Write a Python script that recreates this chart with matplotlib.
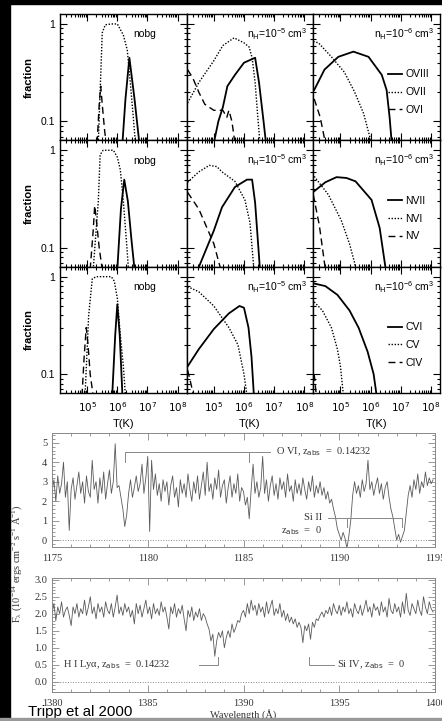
import matplotlib
matplotlib.use('Agg')
import matplotlib.pyplot as plt
from matplotlib.patches import Rectangle
from matplotlib.ticker import LogLocator, MultipleLocator, NullFormatter, FuncFormatter, FixedLocator
import numpy as np

W, H = 442, 721

# ---- ionisation fractions, (log T, fraction) ----
# oxygen
o_nobg_viii = [(6.17, 0.06), (6.27, 0.17), (6.4, 0.45), (6.57, 0.17), (6.73, 0.06)]
o_nobg_vii = [(5.37, 0.06), (5.5, 0.81), (5.6, 0.98), (5.8, 1.0), (6.0, 1.0), (6.2, 0.77),
              (6.33, 0.54), (6.43, 0.25), (6.53, 0.11), (6.6, 0.06)]
o_nobg_vi = [(5.33, 0.06), (5.4, 0.15), (5.45, 0.23), (5.5, 0.15), (5.58, 0.08), (5.63, 0.06)]
o_5_viii = [(5.0, 0.06), (5.15, 0.1), (5.3, 0.14), (5.45, 0.23), (5.7, 0.3), (6.0, 0.4),
            (6.37, 0.45), (6.5, 0.25), (6.65, 0.1), (6.73, 0.06)]
o_5_vii = [(4.13, 0.155), (4.5, 0.25), (5.0, 0.42), (5.3, 0.6), (5.67, 0.72), (6.0, 0.64),
           (6.17, 0.58), (6.27, 0.45), (6.37, 0.25), (6.45, 0.12), (6.53, 0.06)]
o_5_vi = [(4.13, 0.34), (4.3, 0.28), (4.5, 0.2), (4.7, 0.15), (5.0, 0.13), (5.3, 0.13),
          (5.43, 0.11), (5.5, 0.13), (5.6, 0.1), (5.7, 0.06)]
o_6_viii = [(4.13, 0.21), (4.47, 0.34), (4.93, 0.46), (5.43, 0.52), (5.93, 0.46), (6.37, 0.3),
            (6.53, 0.21), (6.63, 0.11), (6.7, 0.06)]
o_6_vii = [(4.1, 0.66), (4.27, 0.64), (4.7, 0.46), (5.13, 0.32), (5.47, 0.2), (5.77, 0.12),
           (5.97, 0.07), (6.0, 0.06)]
o_6_vi = [(4.13, 0.17), (4.33, 0.11), (4.5, 0.06)]
# nitrogen
n_nobg_vii = [(6.0, 0.06), (6.12, 0.25), (6.23, 0.5), (6.35, 0.3), (6.47, 0.12), (6.57, 0.06)]
n_nobg_vi = [(5.2, 0.06), (5.37, 0.3), (5.43, 0.9), (5.53, 1.0), (5.87, 1.0), (6.0, 0.85),
             (6.1, 0.63), (6.2, 0.3), (6.3, 0.12), (6.37, 0.06)]
n_nobg_v = [(5.1, 0.06), (5.2, 0.15), (5.25, 0.27), (5.3, 0.2), (5.4, 0.1), (5.5, 0.06)]
n_5_vii = [(4.47, 0.06), (5.0, 0.15), (5.27, 0.26), (5.7, 0.42), (6.1, 0.5), (6.27, 0.5),
           (6.37, 0.29), (6.53, 0.06)]
n_5_vi = [(4.13, 0.47), (4.5, 0.6), (4.85, 0.7), (5.1, 0.68), (5.27, 0.6), (5.7, 0.48),
          (6.03, 0.31), (6.2, 0.18), (6.33, 0.06)]
n_5_v = [(4.13, 0.37), (4.5, 0.25), (5.0, 0.11), (5.23, 0.06)]
n_6_vii = [(4.13, 0.38), (4.5, 0.47), (4.87, 0.53), (5.2, 0.52), (5.5, 0.48), (6.03, 0.31),
           (6.3, 0.16), (6.47, 0.07), (6.5, 0.06)]
n_6_vi = [(4.13, 0.54), (4.6, 0.35), (5.03, 0.19), (5.3, 0.11), (5.47, 0.07), (5.5, 0.06)]
n_6_v = [(4.1, 0.35), (4.3, 0.17), (4.5, 0.06)]
# carbon
c_nobg_vi = [(5.83, 0.06), (5.93, 0.25), (6.0, 0.52), (6.08, 0.25), (6.17, 0.06)]
c_nobg_v = [(4.93, 0.06), (5.05, 0.4), (5.17, 0.95), (5.3, 1.0), (5.8, 1.0), (5.9, 0.9),
            (6.0, 0.6), (6.1, 0.25), (6.2, 0.12), (6.27, 0.06)]
c_nobg_iv = [(4.83, 0.06), (4.9, 0.15), (4.97, 0.3), (5.03, 0.2), (5.1, 0.1), (5.2, 0.06)]
c_5_vi = [(4.13, 0.12), (4.5, 0.18), (5.0, 0.29), (5.5, 0.42), (5.85, 0.5), (6.0, 0.48),
          (6.15, 0.3), (6.25, 0.15), (6.33, 0.06)]
c_5_v = [(4.13, 0.79), (4.5, 0.7), (5.0, 0.5), (5.5, 0.3), (5.8, 0.2), (6.0, 0.1), (6.1, 0.06)]
c_5_iv = [(4.13, 0.11), (4.2, 0.09), (4.33, 0.06)]
c_6_vi = [(4.13, 0.85), (4.5, 0.8), (4.9, 0.65), (5.3, 0.45), (5.6, 0.3), (5.9, 0.17),
          (6.1, 0.1), (6.2, 0.06)]
c_6_v = [(4.13, 0.55), (4.4, 0.45), (4.7, 0.3), (4.9, 0.18), (5.0, 0.12), (5.1, 0.06)]
c_6_iv = [(4.13, 0.1), (4.2, 0.06)]

grid_curves = [
    [(o_nobg_viii, o_nobg_vii, o_nobg_vi), (o_5_viii, o_5_vii, o_5_vi), (o_6_viii, o_6_vii, o_6_vi)],
    [(n_nobg_vii, n_nobg_vi, n_nobg_v), (n_5_vii, n_5_vi, n_5_v), (n_6_vii, n_6_vi, n_6_v)],
    [(c_nobg_vi, c_nobg_v, c_nobg_iv), (c_5_vi, c_5_v, c_5_iv), (c_6_vi, c_6_v, c_6_iv)],
]
ion_names = [['OVIII', 'OVII', 'OVI'], ['NVII', 'NVI', 'NV'], ['CVI', 'CV', 'CIV']]
col_titles = ['nobg', r'n$_{\rm H}$=10$^{-5}$ cm$^{3}$', r'n$_{\rm H}$=10$^{-6}$ cm$^{3}$']

# ---- STIS spectra (flux, 1e-14 erg/cm2/s/A), 0.1 A steps ----
wl_a0, wl_b0 = 1175.0, 1380.0
flux_a = [
    2.5, 3.1, 2.0, 3.3, 2.4, 2.9, 4.0, 2.2, 3.0, 0.5,
    2.6, 3.2, 2.1, 2.8, 3.5, 2.4, 3.0, 1.9, 3.3, 2.5,
    2.2, 4.1, 2.6, 3.0, 1.9, 3.2, 2.4, 3.5, 2.1, 2.9,
    3.6, 2.4, 3.0, 4.95, 2.7, 2.8, 2.2, 1.6, 0.7, 1.3,
    2.4, 3.1, 2.2, 2.7, 3.3, 2.5, 2.9, 3.9, 2.4, 3.2,
    4.3, 0.45, 4.1, 2.6, 3.4, 2.3, 2.9, 2.0, 3.1, 2.5,
    3.0, 1.8, 2.8, 3.3, 2.2, 2.7, 1.7, 3.1, 2.4, 2.9,
    2.2, 3.4, 2.6, 2.0, 3.0, 2.4, 3.3, 2.1, 2.8, 3.5,
    2.3, 4.0, 2.5, 2.9, 2.1, 3.2, 2.6, 3.6, 2.2, 2.8,
    3.1, 1.9, 2.7, 3.3, 2.2, 2.9, 2.4, 3.4, 2.0, 2.7,
    2.5, 1.8, 2.2, 1.1, 2.6, 3.9, 2.4, 3.0, 2.2, 2.7,
    4.3, 2.4, 3.1, 2.0, 2.8, 3.3, 2.3, 2.9, 2.1, 3.2,
    2.6, 3.0, 2.2, 3.4, 2.5, 2.8, 2.0, 3.1, 2.4, 2.9,
    2.3, 3.2, 2.6, 2.1, 3.0, 2.5, 3.3, 2.2, 2.8, 2.4,
    3.0, 2.3, 2.7, 2.1, 2.5, 1.9, 2.1, 1.6, 1.2, 0.6,
    0.3, 0.0, 0.4, 0.1, -0.4, 0.2, 1.0, 2.3, 3.0, 2.4,
    2.8, 2.2, 3.1, 2.5, 2.9, 4.1, 2.6, 3.0, 2.3, 2.8,
    3.2, 2.4, 2.9, 2.1, 2.7, 3.0, 2.2, 1.6, 1.2, 0.6,
    0.0, 0.3, -0.1, 0.2, 0.5, 1.4, 2.3, 2.8, 2.2, 3.1,
    2.6, 3.4, 2.4, 3.0, 2.7, 3.5, 2.8, 3.2, 2.9, 3.1,
]
flux_b = [
    2.0, 2.3, 1.8, 2.2, 2.0, 2.35, 1.9, 2.1, 2.2, 1.95,
    1.65, 2.2, 2.0, 2.3, 1.9, 2.15, 2.0, 2.4, 1.95, 2.2,
    2.5, 2.0, 2.2, 1.85, 2.3, 2.05, 2.2, 1.9, 2.35, 2.1,
    2.0, 2.3, 1.9, 2.2, 2.55, 2.0, 2.2, 1.95, 2.3, 2.05,
    2.2, 1.9, 2.1, 1.7, 2.3, 2.0, 2.25, 1.9, 2.15, 2.4,
    2.0, 2.2, 1.85, 2.3, 2.0, 2.15, 1.95, 2.35, 2.05, 2.2,
    1.9, 1.55, 2.2, 2.0, 2.3, 1.9, 2.15, 2.0, 2.25, 1.85,
    1.5, 2.1, 1.9, 2.2, 1.8, 2.05, 1.9, 2.15, 1.8, 2.0,
    1.9, 1.7, 1.55, 1.2, 1.4, 0.75, 1.2, 1.45, 1.3, 1.5,
    1.0, 1.3, 1.5, 1.3, 1.7, 1.45, 1.6, 1.8, 1.75, 2.0,
    2.1, 1.9, 2.3, 2.0, 2.4, 2.1, 2.25, 1.95, 2.3, 2.05,
    2.2, 1.9, 2.35, 2.0, 2.2, 2.4, 1.95, 2.15, 2.0, 2.3,
    1.9, 2.1, 1.8, 2.0, 1.75, 1.9, 1.7, 1.85, 1.6, 1.75,
    1.6, 1.15, 1.65, 1.5, 1.7, 1.25, 1.75, 1.6, 1.85, 1.8,
    1.95, 2.05, 1.9, 2.1, 2.0, 2.2, 1.95, 2.3, 2.1, 2.0,
    2.25, 1.95, 2.2, 2.05, 2.35, 2.0, 2.15, 1.9, 2.3, 2.1,
    2.0, 2.25, 1.95, 2.15, 2.4, 2.05, 2.2, 1.9, 2.3, 2.1,
    2.2, 1.95, 2.35, 2.05, 2.2, 1.9, 2.45, 2.1, 2.0, 2.3,
    2.05, 2.2, 1.9, 2.35, 2.0, 2.6, 2.1, 1.95, 2.3, 2.15,
    2.0, 2.4, 2.1, 1.95, 2.5, 2.2, 2.0, 2.35, 2.15, 2.05,
]
ovi_lines = [1178.79, 1185.30]
siii_lines = [1190.42, 1193.29]
hi_line = 1388.68
siiv_line = 1393.76


def box(l, t, r, b):
    return [l / W, 1 - b / H, (r - l) / W, (b - t) / H]


fig = plt.figure(figsize=(W / 100, H / 100), dpi=100)
plt.rcParams['mathtext.default'] = 'regular'
sans = ['Liberation Sans', 'DejaVu Sans']
serif = ['Liberation Serif', 'DejaVu Serif']

# ---------------- top 3x3 grid ----------------
col_x = [60, 186.7, 313.3, 440]
row_y = [14, 140.3, 266.7, 393]
styles = [dict(ls='-', lw=1.3), dict(ls=(0, (1, 1.2)), lw=1.0), dict(ls=(0, (5, 3)), lw=1.0)]

for r in range(3):
    for c in range(3):
        ax = fig.add_axes(box(col_x[c], row_y[r], col_x[c + 1], row_y[r + 1]))
        for k, crv in enumerate(grid_curves[r][c]):
            lt = [p[0] for p in crv]
            fr = [p[1] for p in crv]
            ax.plot(10 ** np.array(lt), fr, color='black', label=ion_names[r][k], **styles[k])
        ax.set_xscale('log')
        ax.set_yscale('log')
        ax.set_xlim(10 ** 4.1, 10 ** 8.3)
        ax.set_ylim(0.064, 1.265)
        ax.xaxis.set_major_locator(LogLocator(base=10, numticks=10))
        ax.xaxis.set_minor_locator(LogLocator(base=10, subs=np.arange(2, 10), numticks=20))
        ax.yaxis.set_major_locator(FixedLocator([0.1, 1]))
        ax.yaxis.set_minor_locator(LogLocator(base=10, subs=np.arange(2, 10), numticks=20))
        ax.yaxis.set_minor_formatter(NullFormatter())
        ax.xaxis.set_minor_formatter(NullFormatter())
        ax.tick_params(which='both', direction='in', top=True, right=True, width=0.8)
        ax.tick_params(which='major', length=5)
        ax.tick_params(which='minor', length=2.5)
        for s in ax.spines.values():
            s.set_linewidth(1.0)
        if c == 0:
            ax.yaxis.set_major_formatter(FuncFormatter(lambda v, p: '1' if v >= 1 else '0.1'))
            ax.set_ylabel('fraction', fontsize=8, fontweight='bold', family=sans, labelpad=5)
            for t in ax.get_yticklabels():
                t.set_fontsize(7.5)
                t.set_family(sans)
        else:
            ax.set_yticklabels([])
        if r == 2:
            ax.xaxis.set_major_formatter(FuncFormatter(lambda v, p: '10$^{%d}$' % round(np.log10(v))))
            ax.tick_params(axis='x', which='major', labelsize=7.5, pad=5)
            ax.set_xlabel('T(K)', fontsize=8, family=sans, labelpad=4)
        else:
            ax.set_xticklabels([])
        ax.text(0.957 if c else 0.67, 0.84, col_titles[c], transform=ax.transAxes,
                ha='right' if c else 'center', va='center', fontsize=7.5, family=sans)
        if c == 2:
            ax.legend(loc='center left', bbox_to_anchor=(0.56, 0.38), frameon=False,
                      handlelength=1.3, handletextpad=0.3, labelspacing=0.75,
                      borderaxespad=0, prop=dict(family=sans, size=7.5))

# ---------------- spectra ----------------
spec_col = '#5a5a5a'
axis_col = '#888888'
txt_col = '#333333'
wl_a = wl_a0 + 0.1 * np.arange(len(flux_a))
wl_b = wl_b0 + 0.1 * np.arange(len(flux_b))

axa = fig.add_axes(box(52, 433, 435, 547))
axb = fig.add_axes(box(52, 578, 435, 692))
axa.plot(wl_a, flux_a, color=spec_col, lw=0.6)
axb.plot(wl_b, flux_b, color=spec_col, lw=0.6)
axa.set_xlim(1175, 1195)
axa.set_ylim(-0.35, 5.5)
axb.set_xlim(1380, 1400)
axb.set_ylim(-0.3, 3.05)
axa.yaxis.set_major_locator(MultipleLocator(1))
axa.yaxis.set_minor_locator(MultipleLocator(0.2))
axb.yaxis.set_major_locator(MultipleLocator(0.5))
axb.yaxis.set_minor_locator(MultipleLocator(0.1))
axb.yaxis.set_major_formatter(FuncFormatter(lambda v, p: '%.1f' % v))
for ax in (axa, axb):
    ax.axhline(0, color=axis_col, ls=':', lw=0.7)
    ax.xaxis.set_major_locator(MultipleLocator(5))
    ax.xaxis.set_minor_locator(MultipleLocator(1))
    ax.tick_params(which='both', direction='in', top=True, right=True, color=axis_col,
                   labelcolor=txt_col, labelsize=7.5, width=0.6)
    ax.tick_params(which='major', length=5)
    ax.tick_params(which='minor', length=2.5)
    ax.tick_params(axis='x', pad=5)
    for s in ax.spines.values():
        s.set_color(axis_col)
        s.set_linewidth(0.7)
    for t in ax.get_xticklabels() + ax.get_yticklabels():
        t.set_family(serif)

ann = dict(color=txt_col, fontsize=7.5, family=serif)
line_kw = dict(color=axis_col, lw=0.7)
# O VI doublet
axa.plot([ovi_lines[0], ovi_lines[0], 1186.4], [4.0, 4.55, 4.55], **line_kw)
axa.plot([ovi_lines[1], ovi_lines[1]], [4.0, 4.55], **line_kw)
axa.text(1186.7, 4.55, r'O VI, z$_{\rm abs}$  =  0.14232', va='center', **ann)
# Si II
axa.plot([1189.4, siii_lines[1], siii_lines[1]], [1.15, 1.15, 0.7], **line_kw)
axa.plot([siii_lines[0], siii_lines[0]], [1.15, 0.7], **line_kw)
axa.text(1189.1, 1.15, 'Si II', ha='right', va='center', **ann)
axa.text(1189.1, 0.5, r'z$_{\rm abs}$  =  0', ha='right', va='center', **ann)
# H I Lya and Si IV
axb.plot([1387.7, hi_line, hi_line], [0.5, 0.5, 0.72], **line_kw)
axb.text(1380.6, 0.5, r'H I Ly$\alpha$, z$_{\rm abs}$  =  0.14232', va='center', **ann)
axb.plot([siiv_line - 0.35, siiv_line - 0.35, 1394.7], [0.72, 0.5, 0.5], **line_kw)
axb.text(1394.9, 0.5, r'Si IV, z$_{\rm abs}$  =  0', va='center', **ann)

axb.set_xlabel('Wavelength (Å)', fontsize=7.5, family=serif, color=txt_col, labelpad=1)
fig.text(17 / W, 1 - 564 / H, r'F$_\lambda$ (10$^{-14}$ ergs cm$^{-2}$ s$^{-1}$ Å$^{-1}$)',
         rotation=90, ha='center', va='center', fontsize=7.5, family=serif, color=txt_col)
fig.text(28 / W, 1 - 716 / H, 'Tripp et al 2000', fontsize=10.8, family=sans, color='black',
         va='baseline')

# frame bars of the slide
fig.patches.append(Rectangle((0, 0), 10 / W, 1, transform=fig.transFigure, color='black', zorder=5))
fig.patches.append(Rectangle((0, 1 - 4 / H), 1, 4 / H, transform=fig.transFigure, color='black', zorder=5))
fig.patches.append(Rectangle((0, 0), 1, 3 / H, transform=fig.transFigure, color='#999999', zorder=5))

fig.savefig('out.png', dpi=100)
